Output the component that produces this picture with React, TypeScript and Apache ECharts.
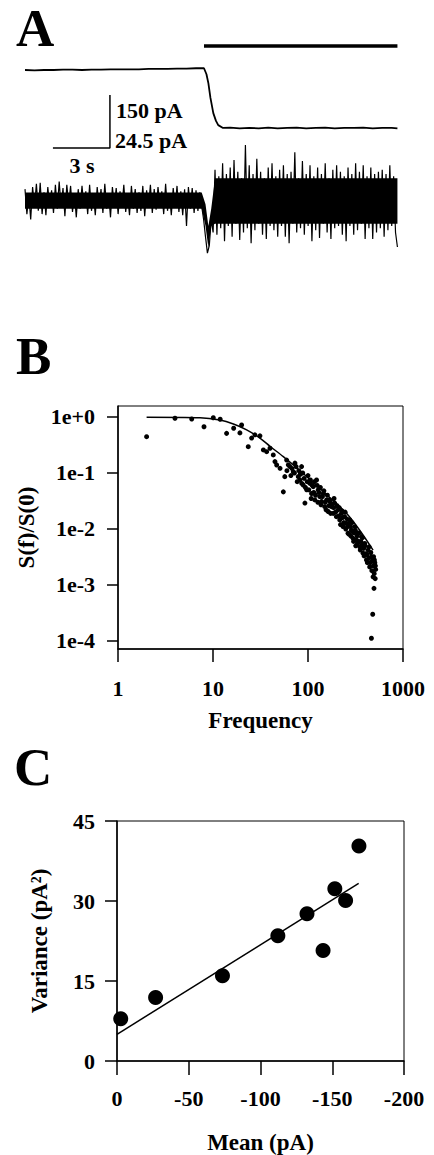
import React, { useEffect, useRef } from 'react';
import * as echarts from 'echarts';

const FONT = "'Liberation Serif', 'Times New Roman', serif";

// ---------- Panel A ----------
const STIM_T = [9.42, 19.6];
const STIM_LEVEL = 68;
const TRACE_T = [0, 0.5, 1, 1.5, 2, 2.5, 3, 3.5, 4, 4.5, 5, 5.5, 6, 6.5, 7, 7.5, 8, 8.5, 9, 9.42, 9.55, 9.65, 9.76, 9.91, 10.05, 10.17, 10.42, 10.8, 11.3, 11.8, 12.3, 12.8, 13.3, 13.8, 14.3, 14.8, 15.3, 15.8, 16.3, 16.8, 17.3, 17.8, 18.3, 18.8, 19.3, 19.6];
const TRACE_PA = [0, -1, 0, 0, 1, 1, 0, 1, 1, 2, 2, 2, 2, 3, 3, 3, 4, 4, 5, 5, -12, -37, -79, -122, -144, -156, -164, -163, -165, -164, -165, -163, -165, -164, -163, -165, -164, -163, -165, -164, -164, -163, -165, -164, -164, -165];
const NOISE_DT = 0.1;
const NOISE_PA = [
  5, -6.5, 2.5, -9, 6, -3, 7.5, -5, 8, -6.5,
  3.5, -7, 6, -2.5, 4.5, -6, 7, -4, 8.5, -3.5,
  5.5, -7.5, 7, -2, 6.5, -5.5, 3, -8, 5, -4,
  6.5, -3, 4, -6.5, 7, -5, 2.5, -7, 6, -3.5,
  5, -6, 7.5, -4, 3, -8, 6, -2.5, 5.5, -6.5,
  4, -3.5, 7, -5.5, 2.5, -7, 6.5, -4, 5, -6,
  3.5, -5, 6.5, -7.5, 4.5, -3, 7, -6, 5, -4.5,
  6, -2.5, 4, -6.5, 7.5, -5, 3, -7, 5.5, -3.5,
  6.5, -5.5, 4, -7, 5, -12, 6, -4, 5.5, -6,
  4.5, -5, 3.5,
  -3, -9, -17, -24.5, -21, -9, -15,
  14, -16, 11, -13, 17, -19, 12, -12, 15, -17,
  18.5, -11, 13, -18.5, 10, -15, 25.4, -13, 16, -20,
  12, -14, 19, -11, 13, -16, 10, -18, 15, -12,
  17, -14, 11, -17, 14, -12, 16, -17, 12, -20,
  13, -11, 22, -15, 10, -13, 18, -16, 12, -12,
  16, -19, 11, -14, 15, -17.5, 12, -11, 17, -15,
  10, -18, 14, -13, 16, -12, 13, -16, 11, -19,
  15, -12, 12, -16, 17, -14, 13, -11, 16, -18,
  11, -13, 15, -18, 12, -15, 13, -13, 14, -17,
  12, -14, 16, -12, 11, -15, -21.7
];
const CORE_T = [0, 9.3, 9.5, 9.65, 9.8, 10.0, 19.6];
const CORE_HI = [3.5, 3.5, -2, -12, -4, 10, 10];
const CORE_LO = [-4, -4, -12, -22, -12, -11, -11];
const SCALE_T = [1.47, 4.47, 4.47];
const SCALE_PA = [-220.8, -220.8, -70.8];

// ---------- Panel B ----------
const SPEC_F = [2.0, 3.98, 5.97, 8.04, 10.07, 11.9, 13.9, 16.5, 19.2, 20.0, 23.5, 25.5, 27.6, 31.2, 33.9, 36.7, 39.8, 43.1, 44.9, 46.8, 50.8, 55.0, 57.0, 59.6, 64.5, 70.0, 72.9, 79.0, 85.6, 82.2, 89.0, 92.8, 96.8, 104.7, 109, 113.5, 118, 123, 128, 133, 139, 145, 150, 157, 163, 170, 177, 184, 191, 199, 207, 216, 225, 234, 243, 253, 264, 275, 286, 298, 310, 323, 336, 350, 365, 380, 395, 412, 428, 446, 465, 484, 495, 480, 465, 505, 515,
  60, 62, 66, 68, 72, 75, 77, 80, 83, 86, 88, 91, 94, 98, 100, 102, 106, 108, 111, 115, 117, 120, 125, 127, 130, 135, 137, 142, 147, 152, 155, 160, 166, 168, 173, 180, 186, 188, 195, 202, 210, 213, 220, 228, 231, 238, 246, 250, 258, 261, 268, 272, 280, 283, 290, 295, 302, 306, 315, 318, 328, 332, 340, 345, 355, 360, 370, 375, 385, 390, 400, 405, 418, 422, 435, 440, 452, 458, 470, 475, 488, 490, 498, 500, 510, 512];
const SPEC_S = [0.445, 0.95, 0.92, 0.67, 0.97, 0.91, 0.51, 0.63, 0.52, 0.72, 0.295, 0.42, 0.48, 0.46, 0.258, 0.24, 0.276, 0.21, 0.16, 0.139, 0.121, 0.046, 0.086, 0.17, 0.13, 0.105, 0.15, 0.086, 0.13, 0.075, 0.061, 0.029, 0.05, 0.065, 0.043, 0.057, 0.033, 0.075, 0.05, 0.038, 0.031, 0.043, 0.025, 0.033, 0.0205, 0.031, 0.025, 0.019, 0.029, 0.0166, 0.022, 0.0145, 0.019, 0.011, 0.0166, 0.0126, 0.0084, 0.0145, 0.0095, 0.0068, 0.011, 0.0064, 0.0084, 0.0048, 0.0073, 0.0037, 0.0055, 0.0028, 0.0042, 0.0021, 0.0032, 0.0014, 0.00087, 0.0003, 0.000112, 0.0025, 0.0019,
  0.11, 0.14, 0.09, 0.12, 0.1, 0.13, 0.07, 0.11, 0.095, 0.065, 0.1, 0.08, 0.055, 0.07, 0.09, 0.05, 0.075, 0.035, 0.06, 0.045, 0.07, 0.04, 0.06, 0.03, 0.045, 0.055, 0.027, 0.038, 0.048, 0.03, 0.022, 0.04, 0.026, 0.033, 0.019, 0.028, 0.024, 0.035, 0.02, 0.026, 0.017, 0.024, 0.012, 0.021, 0.016, 0.013, 0.02, 0.01, 0.015, 0.011, 0.0125, 0.008, 0.011, 0.0075, 0.013, 0.009, 0.006, 0.0085, 0.0095, 0.005, 0.0075, 0.0055, 0.006, 0.0085, 0.0042, 0.006, 0.0052, 0.007, 0.0045, 0.0033, 0.005, 0.0036, 0.0035, 0.0025, 0.003, 0.0048, 0.0025, 0.0038, 0.0018, 0.0027, 0.0022, 0.0032, 0.0016, 0.0028, 0.0013, 0.0022];
const FITB_F = [2.0, 7.3, 11.8, 16.4, 22.6, 31.2, 39.8, 55, 70, 97, 133, 184, 254, 350, 484];
const FITB_S = [0.99, 0.97, 0.88, 0.75, 0.59, 0.42, 0.30, 0.196, 0.139, 0.086, 0.053, 0.032, 0.019, 0.0095, 0.0042];
const B_X_TICKS = [0, 1, 2, 3];
const B_Y_TICKS = [-4, -3, -2, -1, 0];
const B_Y_LABELS = ['1e-4', '1e-3', '1e-2', '1e-1', '1e+0'];

// ---------- Panel C ----------
const MEAN_PA = [-2.6, -26.9, -73.5, -112.1, -132.4, -143.6, -151.8, -159.3, -168.6];
const VAR_PA2 = [7.9, 11.9, 16.0, 23.5, 27.6, 20.7, 32.3, 30.1, 40.3];
const FITC_X = [0, -168.4];
const FITC_Y = [5.0, 33.3];
const C_X_TICKS = [0, -50, -100, -150, -200];
const C_Y_TICKS = [0, 15, 30, 45];

const BLACK = '#000';
const tickFont = { fontFamily: FONT, fontWeight: 'bold' as const, fontSize: 22, color: BLACK };
const nameFont = { fontFamily: FONT, fontWeight: 'bold' as const, fontSize: 23, color: BLACK };

export default function App() {
  const ref = useRef<HTMLDivElement>(null);
  useEffect(() => {
    document.body.style.margin = '0';
    if (!ref.current) return;
    const chart = echarts.init(ref.current, undefined, { renderer: 'svg' });

    const axisLineStyle = { color: BLACK, width: 1.5 };

    const option: any = {
      animation: false,
      backgroundColor: '#fff',
      textStyle: { fontFamily: FONT },
      grid: [
        { left: 25, top: 40, width: 373, height: 110 },
        { left: 25, top: 140, width: 373, height: 120 },
        { left: 118, top: 406, width: 285, height: 243, show: true, borderColor: BLACK, borderWidth: 1 },
        { left: 117, top: 821, width: 287, height: 242, show: true, borderColor: BLACK, borderWidth: 1 },
      ],
      xAxis: [
        { gridIndex: 0, type: 'value', min: 0, max: 19.63, show: false },
        { gridIndex: 1, type: 'value', min: 0, max: 19.63, show: false },
        {
          gridIndex: 2, type: 'value', min: 0, max: 3, interval: 1,
          axisLine: { onZero: false, lineStyle: axisLineStyle },
          axisTick: { length: 13, lineStyle: axisLineStyle, customValues: B_X_TICKS },
          axisLabel: { ...tickFont, margin: 28, customValues: B_X_TICKS, formatter: (v: number) => String(Math.round(Math.pow(10, v))) },
          splitLine: { show: false },
          name: 'Frequency', nameLocation: 'middle', nameGap: 60, nameTextStyle: nameFont,
        },
        {
          gridIndex: 3, type: 'value', min: -200, max: 0, interval: 50, inverse: true,
          axisLine: { onZero: false, lineStyle: axisLineStyle },
          axisTick: { length: 14, lineStyle: axisLineStyle, customValues: C_X_TICKS },
          axisLabel: { ...tickFont, margin: 26, customValues: C_X_TICKS, formatter: (v: number) => String(v) },
          splitLine: { show: false },
          name: 'Mean (pA)', nameLocation: 'middle', nameGap: 70, nameTextStyle: nameFont,
        },
      ],
      yAxis: [
        { gridIndex: 0, type: 'value', min: -226.4, max: 84.9, show: false },
        { gridIndex: 1, type: 'value', min: -27.7, max: 27.7, show: false },
        {
          gridIndex: 2, type: 'value', min: -4.143, max: 0.196,
          axisLine: { onZero: false, lineStyle: axisLineStyle },
          axisTick: { length: 11, lineStyle: axisLineStyle, customValues: B_Y_TICKS },
          axisLabel: {
            ...tickFont, margin: 23, customValues: B_Y_TICKS,
            formatter: (v: number) => B_Y_LABELS[B_Y_TICKS.indexOf(Math.round(v))] ?? '',
          },
          splitLine: { show: false },
          name: 'S(f)/S(0)', nameLocation: 'middle', nameGap: 80, nameTextStyle: nameFont,
        },
        {
          gridIndex: 3, type: 'value', min: 0, max: 45, interval: 15,
          axisLine: { onZero: false, lineStyle: axisLineStyle },
          axisTick: { length: 12, lineStyle: axisLineStyle, customValues: C_Y_TICKS },
          axisLabel: { ...tickFont, margin: 22, customValues: C_Y_TICKS, formatter: (v: number) => String(v) },
          splitLine: { show: false },
          name: 'Variance (pA²)', nameLocation: 'middle', nameGap: 66, nameTextStyle: nameFont,
        },
      ],
      series: [
        {
          type: 'line', xAxisIndex: 0, yAxisIndex: 0, showSymbol: false, symbol: 'none',
          data: TRACE_T.map((t, i) => [t, TRACE_PA[i]]),
          lineStyle: { color: BLACK, width: 1.8 },
        },
        {
          type: 'line', xAxisIndex: 0, yAxisIndex: 0, symbol: 'none',
          data: STIM_T.map((t) => [t, STIM_LEVEL]),
          lineStyle: { color: BLACK, width: 3.5 },
        },
        {
          type: 'line', xAxisIndex: 0, yAxisIndex: 0, symbol: 'none',
          data: SCALE_T.map((t, i) => [t, SCALE_PA[i]]),
          lineStyle: { color: BLACK, width: 1.5 },
        },
        {
          type: 'custom', xAxisIndex: 1, yAxisIndex: 1,
          data: [[0, 0]],
          renderItem: (_p: any, api: any) => {
            const pts: number[][] = [];
            CORE_T.forEach((t, i) => pts.push(api.coord([t, CORE_HI[i]])));
            for (let i = CORE_T.length - 1; i >= 0; i--) pts.push(api.coord([CORE_T[i], CORE_LO[i]]));
            return { type: 'polygon', shape: { points: pts }, style: { fill: BLACK } };
          },
        },
        {
          type: 'line', xAxisIndex: 1, yAxisIndex: 1, symbol: 'none',
          data: NOISE_PA.map((v, i) => [i * NOISE_DT, v]),
          lineStyle: { color: BLACK, width: 1.2 },
        },
        {
          type: 'scatter', xAxisIndex: 2, yAxisIndex: 2, symbolSize: 5,
          data: SPEC_F.map((f, i) => [Math.log10(f), Math.log10(SPEC_S[i])]),
          itemStyle: { color: BLACK, opacity: 1 },
        },
        {
          type: 'line', xAxisIndex: 2, yAxisIndex: 2, symbol: 'none', smooth: 0.3,
          data: FITB_F.map((f, i) => [Math.log10(f), Math.log10(FITB_S[i])]),
          lineStyle: { color: BLACK, width: 1.5 },
        },
        {
          type: 'line', xAxisIndex: 3, yAxisIndex: 3, symbol: 'none',
          data: FITC_X.map((x, i) => [x, FITC_Y[i]]),
          lineStyle: { color: BLACK, width: 1.5 },
        },
        {
          type: 'scatter', xAxisIndex: 3, yAxisIndex: 3, symbolSize: 15,
          data: MEAN_PA.map((m, i) => [m, VAR_PA2[i]]),
          itemStyle: { color: BLACK, opacity: 1 },
        },
      ],
      graphic: [
        { type: 'text', x: 16, y: 28, style: { text: 'A', fontFamily: FONT, fontWeight: 'bold', fontSize: 53, fill: BLACK, align: 'left', verticalAlign: 'middle' } },
        { type: 'text', x: 16, y: 356, style: { text: 'B', fontFamily: FONT, fontWeight: 'bold', fontSize: 53, fill: BLACK, align: 'left', verticalAlign: 'middle' } },
        { type: 'text', x: 14, y: 767, style: { text: 'C', fontFamily: FONT, fontWeight: 'bold', fontSize: 53, fill: BLACK, align: 'left', verticalAlign: 'middle' } },
        { type: 'text', x: 116, y: 110, style: { text: '150 pA', fontFamily: FONT, fontWeight: 'bold', fontSize: 22, fill: BLACK, align: 'left', verticalAlign: 'middle' } },
        { type: 'text', x: 115, y: 140, style: { text: '24.5 pA', fontFamily: FONT, fontWeight: 'bold', fontSize: 22, fill: BLACK, align: 'left', verticalAlign: 'middle' } },
        { type: 'text', x: 82, y: 165, style: { text: '3 s', fontFamily: FONT, fontWeight: 'bold', fontSize: 22, fill: BLACK, align: 'center', verticalAlign: 'middle' } },
      ],
    };
    chart.setOption(option);
    return () => chart.dispose();
  }, []);
  return <div ref={ref} style={{ width: 434, height: 1155 }} />;
}
